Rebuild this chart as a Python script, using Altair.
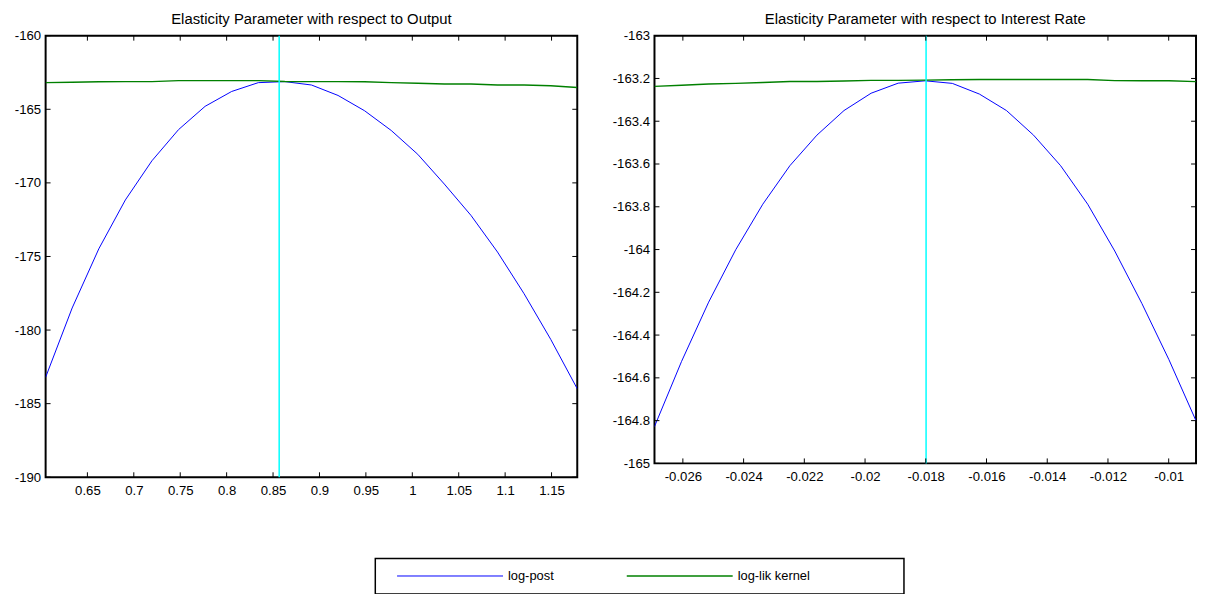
import altair as alt
import pandas as pd

# ---------------- data: left panel (Output) ----------------
out_x = [0.6050, 0.6336, 0.6623, 0.6909, 0.7195, 0.7482, 0.7768, 0.8054, 0.8341, 0.8627,
         0.8914, 0.9200, 0.9486, 0.9773, 1.0059, 1.0345, 1.0632, 1.0918, 1.1204, 1.1491, 1.1777]
out_logpost = [-183.21, -178.50, -174.48, -171.16, -168.50, -166.38, -164.80, -163.79, -163.19, -163.12,
               -163.35, -164.06, -165.10, -166.44, -168.06, -170.08, -172.21, -174.70, -177.53, -180.63, -183.99]
out_loglik = [-163.19, -163.16, -163.13, -163.12, -163.12, -163.05, -163.05, -163.05, -163.05, -163.11,
              -163.12, -163.12, -163.13, -163.19, -163.23, -163.28, -163.28, -163.35, -163.35, -163.40, -163.52]
out_mode = [0.8566]
out_xdomain = [0.6050, 1.1777]
out_ydomain = [-190, -160]
out_xticks = [0.65, 0.7, 0.75, 0.8, 0.85, 0.9, 0.95, 1.0, 1.05, 1.1, 1.15]
out_yticks = [-190, -185, -180, -175, -170, -165, -160]
out_title = "Elasticity Parameter with respect to Output"

# ---------------- data: right panel (Interest Rate) ----------------
ir_x = [-0.026935, -0.026043, -0.025151, -0.024260, -0.023368, -0.022476, -0.021585, -0.020693,
        -0.019801, -0.018909, -0.018018, -0.017126, -0.016234, -0.015343, -0.014451, -0.013559,
        -0.012667, -0.011776, -0.010884, -0.009992, -0.009100]
ir_logpost = [-164.828, -164.523, -164.246, -164.001, -163.788, -163.608, -163.465, -163.350, -163.269,
              -163.222, -163.211, -163.223, -163.273, -163.350, -163.465, -163.608, -163.788, -164.007,
              -164.252, -164.515, -164.801]
ir_loglik = [-163.237, -163.232, -163.226, -163.223, -163.219, -163.214, -163.214, -163.212, -163.209,
             -163.209, -163.208, -163.206, -163.205, -163.205, -163.205, -163.205, -163.205, -163.210,
             -163.211, -163.211, -163.215]
ir_mode = [-0.01799]
ir_xdomain = [-0.026935, -0.0091]
ir_ydomain = [-165, -163]
ir_xticks = [-0.026, -0.024, -0.022, -0.02, -0.018, -0.016, -0.014, -0.012, -0.01]
ir_yticks = [-165, -164.8, -164.6, -164.4, -164.2, -164, -163.8, -163.6, -163.4, -163.2, -163]
ir_title = "Elasticity Parameter with respect to Interest Rate"

series_names = ["log-post", "log-lik kernel"]
series_colors = ["#0000ff", "#008000"]
series_widths = [1.0, 1.4]

FONT = "Liberation Sans"
LAB = "replace(format(datum.value, '~g'), '\u2212', '-')"
TICK = 5
# invisible padding so the legend frame reaches as far right as in the reference
PAD = "\u00a0" * 23 + "\u200b"

legend = alt.Legend(
    title=None, orient="none", legendX=333, legendY=528,
    direction="horizontal", strokeColor="black", padding=11,
    symbolType="M-10,0H10", symbolSize=114.5, symbolStrokeWidth=1,
    symbolOffset=58, labelOffset=52, columnPadding=62,
    labelFont=FONT, labelFontSize=13, labelColor="black", labelLimit=400,
    labelExpr="datum.label == 'log-lik kernel' ? datum.label + '" + PAD + "' : datum.label")


def panel(xs, lp, ll, mode, xdom, ydom, xticks, yticks, title, W, H, yext):
    n = len(xs)
    df = pd.DataFrame({
        "x": list(xs) + list(xs),
        "y": list(lp) + list(ll),
        "series": [series_names[0]] * n + [series_names[1]] * n,
    })
    xsc = alt.Scale(domain=xdom, nice=False, zero=False)
    ysc = alt.Scale(domain=ydom, nice=False, zero=False)
    xax = alt.Axis(values=xticks, labelExpr=LAB, title=None, grid=False,
                   domain=False, ticks=False, tickSize=0, labelPadding=6,
                   labelFlush=False, labelOverlap=False)
    yax = alt.Axis(values=yticks, labelExpr=LAB, title=None, grid=False,
                   domain=False, ticks=False, tickSize=0, labelPadding=5,
                   labelFlush=False, labelOverlap=False,
                   minExtent=yext, maxExtent=yext)

    lines = alt.Chart(df).mark_line(clip=True).encode(
        x=alt.X("x:Q", scale=xsc, axis=xax),
        y=alt.Y("y:Q", scale=ysc, axis=yax),
        color=alt.Color("series:N",
                        scale=alt.Scale(domain=series_names, range=series_colors),
                        legend=legend),
        strokeWidth=alt.StrokeWidth("series:N",
                                    scale=alt.Scale(domain=series_names, range=series_widths),
                                    legend=None),
    )

    mode_rule = alt.Chart(pd.DataFrame({"m": mode})).mark_rule(
        color="#00ffff", strokeWidth=1.5).encode(
        x=alt.X("m:Q", scale=xsc, axis=xax))

    xt = pd.DataFrame({"v": xticks})
    yt = pd.DataFrame({"v": yticks})
    top_t = alt.Chart(xt).mark_rule(color="black", strokeWidth=1).encode(
        x=alt.X("v:Q", scale=xsc, axis=xax), y=alt.value(0), y2=alt.value(TICK))
    bot_t = alt.Chart(xt).mark_rule(color="black", strokeWidth=1).encode(
        x=alt.X("v:Q", scale=xsc, axis=xax), y=alt.value(H), y2=alt.value(H - TICK))
    left_t = alt.Chart(yt).mark_rule(color="black", strokeWidth=1).encode(
        y=alt.Y("v:Q", scale=ysc, axis=yax), x=alt.value(0), x2=alt.value(TICK))
    right_t = alt.Chart(yt).mark_rule(color="black", strokeWidth=1).encode(
        y=alt.Y("v:Q", scale=ysc, axis=yax), x=alt.value(W), x2=alt.value(W - TICK))

    return alt.layer(lines, mode_rule, top_t, bot_t, left_t, right_t).properties(
        width=W, height=H,
        title=alt.TitleParams(title, anchor="middle", frame="group", offset=2))


left = panel(out_x, out_logpost, out_loglik, out_mode, out_xdomain, out_ydomain,
             out_xticks, out_yticks, out_title, 537, 446, 37)
right = panel(ir_x, ir_logpost, ir_loglik, ir_mode, ir_xdomain, ir_ydomain,
              ir_xticks, ir_yticks, ir_title, 547, 432, 46)

chart = alt.hconcat(left, right, spacing=29).resolve_scale(
    color="shared", strokeWidth="shared").resolve_legend(color="shared").properties(
    padding=0, background="white").configure_view(
    stroke="black", strokeWidth=2).configure_axis(
    labelFont=FONT, labelFontSize=13.3, labelColor="black").configure_title(
    font=FONT, fontSize=15, fontWeight="normal", color="black").configure_legend(
    strokeWidth=1.5)

chart.save("out.html", embed_options={"renderer": "svg", "actions": False})
